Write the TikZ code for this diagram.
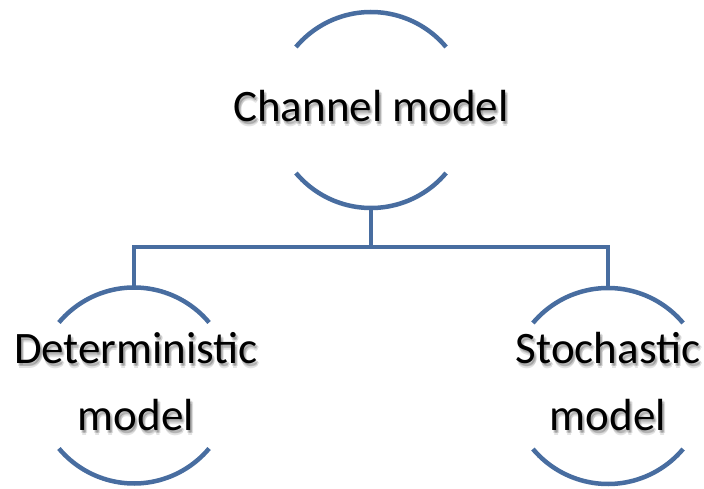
\documentclass[tikz,border=0pt]{standalone}
\usepackage{fontspec}
\setmainfont{Carlito}
\usetikzlibrary{calc}
\definecolor{linkblue}{RGB}{72,109,160}
\begin{document}
\begin{tikzpicture}[x=1pt,y=1pt,
  hub/.style={circle,minimum size=196pt,inner sep=0pt,outer sep=0pt},
  arcline/.style={draw=linkblue,line width=4.5pt},
  wire/.style={draw=linkblue,line width=4.5pt},
  caption/.style={font=\fontsize{45}{54}\selectfont,text=black,anchor=base,inner sep=0pt},
  shade/.style={caption,text=black,opacity=0.11}]
\useasboundingbox (0,0) rectangle (704,488);

% soft drop shadow behind a label
\newcommand{\shadowtext}[3]{%
  \foreach \dx/\dy in {1/-3,3/-3,2/-2,2/-5}
    {\node[shade] at ($(#1,#2)+(\dx,\dy)$) {#3};}
  \node[caption] at (#1,#2) {#3};}

% node hubs
\node[hub] (top)   at (371,378) {};
\node[hub] (left)  at (134,102.5) {};
\node[hub] (right) at (608,102) {};
\coordinate (bus) at (371,241);

% bracket arcs
\foreach \n in {top,left,right}{
  \draw[arcline] (\n.40) arc[start angle=40,end angle=140,radius=98pt];
  \draw[arcline] (\n.220) arc[start angle=220,end angle=320,radius=98pt];
}

% connectors
\draw[wire] (top.south) -- (bus);
\draw[wire] (left.north) |- (bus) -| (right.north);

% labels
\shadowtext{371}{366}{Channel model}
\shadowtext{136}{125}{Deterministic}
\shadowtext{136}{58}{model}
\shadowtext{608}{125}{Stochastic}
\shadowtext{608}{58}{model}
\end{tikzpicture}
\end{document}
